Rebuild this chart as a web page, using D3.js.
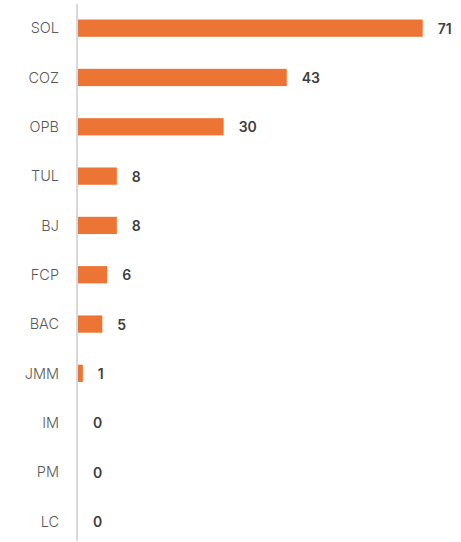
<!DOCTYPE html>
<html>
<head>
<meta charset="utf-8">
<script src="https://cdn.jsdelivr.net/npm/d3@7"></script>
<style>
  body { margin: 0; background: #fff; }
  svg text { font-family: Inter, "Noto Sans", sans-serif; }
</style>
</head>
<body>
<div id="chart"></div>
<script>
var categories = ["SOL", "COZ", "OPB", "TUL", "BJ", "FCP", "BAC", "JMM", "IM", "PM", "LC"];
var values = [71, 43, 30, 8, 8, 6, 5, 1, 0, 0, 0];

var width = 461, height = 542;
var x0 = 78;

var data = categories.map(function (c, i) {
  return {name: c, value: values[i]};
});

var svg = d3.select("#chart").append("svg")
  .attr("width", width)
  .attr("height", height);

var x = d3.scaleLinear()
  .domain([0, 71])
  .range([x0, 422.7]);

var y = d3.scaleBand()
  .domain(categories)
  .range([3.5, 546])
  .paddingInner(0.65)
  .paddingOuter(0.325);

// bars
svg.selectAll(".bar")
  .data(data)
  .enter().append("rect")
  .attr("class", "bar")
  .attr("x", x(0))
  .attr("y", function (d) { return y(d.name); })
  .attr("width", function (d) { return x(d.value) - x(0); })
  .attr("height", y.bandwidth())
  .attr("fill", "#EC7434");

// category axis line
svg.append("line")
  .attr("x1", 77).attr("x2", 77)
  .attr("y1", 4).attr("y2", 541)
  .attr("stroke", "#d9d9d9")
  .attr("stroke-width", 2);

// category labels
svg.selectAll(".cat")
  .data(data)
  .enter().append("text")
  .attr("class", "cat")
  .attr("x", 59)
  .attr("y", function (d) { return y(d.name) + y.bandwidth() / 2; })
  .attr("dy", "0.36em")
  .attr("text-anchor", "end")
  .attr("fill", "#595959")
  .style("font-size", "14.5px")
  .style("font-weight", 300)
  .text(function (d) { return d.name; });

// value labels
svg.selectAll(".val")
  .data(data)
  .enter().append("text")
  .attr("class", "val")
  .attr("x", function (d) { return x(d.value) + 15; })
  .attr("y", function (d) { return y(d.name) + y.bandwidth() / 2; })
  .attr("dy", "0.4em")
  .attr("fill", "#404040")
  .style("font-size", "14px")
  .style("font-weight", 600)
  .text(function (d) { return d.value; });
</script>
</body>
</html>
